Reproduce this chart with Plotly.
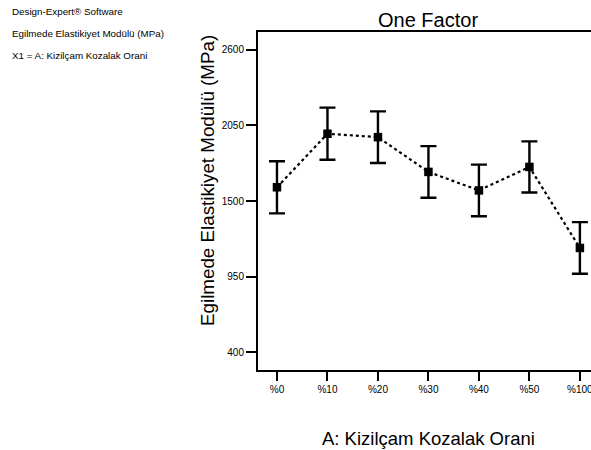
import plotly.graph_objects as go

categories = ["%0", "%10", "%20", "%30", "%40", "%50", "%100"]
means = [1600, 1990, 1965, 1712, 1577, 1748, 1158]
errors = [190, 190, 188, 188, 188, 186, 188]
y_ticks = [400, 950, 1500, 2050, 2600]

x_idx = list(range(len(categories)))

# plot-area geometry in pixels (used only to place free text)
L, T, W, H = 258, 32, 333, 338


def px(x):
    return (x - L) / W


def py(y):
    return (T + H - y) / H


fig = go.Figure()
fig.add_trace(go.Scatter(
    x=x_idx, y=means,
    mode="lines+markers",
    line=dict(color="black", width=2.2, dash="dot"),
    marker=dict(symbol="square", size=8.5, color="black"),
    error_y=dict(type="data", array=errors, visible=True, color="black",
                 thickness=2.4, width=8),
    cliponaxis=False,
    showlegend=False,
))

font_family = "Liberation Sans, Arial, sans-serif"

fig.update_layout(
    width=591, height=450,
    margin=dict(l=L, r=0, t=T, b=450 - T - H, autoexpand=False),
    paper_bgcolor="white", plot_bgcolor="white",
    font=dict(family=font_family, color="black"),
    xaxis=dict(
        range=[-0.376, 6.22],
        automargin=False,
        tickmode="array", tickvals=x_idx, ticktext=categories,
        showline=True, linecolor="black", linewidth=2, mirror=True,
        ticks="outside", ticklen=9, tickwidth=2, tickcolor="black",
        tickfont=dict(size=10, family=font_family),
        ticklabeloverflow="allow",
        showgrid=False, zeroline=False,
    ),
    yaxis=dict(
        range=[269, 2731],
        automargin=False,
        tickmode="array", tickvals=y_ticks, ticktext=[str(v) for v in y_ticks],
        showline=True, linecolor="black", linewidth=2,
        ticks="outside", ticklen=10, tickwidth=2, tickcolor="black",
        tickfont=dict(size=10, family=font_family),
        showgrid=False, zeroline=False,
    ),
)

# chart title
fig.add_annotation(text="One Factor", xref="paper", yref="paper",
                   x=px(428), y=py(20), xanchor="center", yanchor="middle",
                   showarrow=False, font=dict(size=20, family=font_family, color="black"))
# x-axis title
fig.add_annotation(text="A: Kizilçam Kozalak Orani", xref="paper", yref="paper",
                   x=px(428), y=py(438), xanchor="center", yanchor="middle",
                   showarrow=False, font=dict(size=18.5, family=font_family, color="black"))
# y-axis title
fig.add_annotation(text="Egilmede Elastikiyet Modülü (MPa)", xref="paper", yref="paper",
                   x=px(207), y=py(181), xanchor="center", yanchor="middle",
                   textangle=-90, showarrow=False,
                   font=dict(size=18.8, family=font_family, color="black"))

info_lines = ["Design-Expert® Software",
              "Egilmede Elastikiyet Modülü (MPa)",
              "X1 = A: Kizilçam Kozalak Orani"]
info_y = [12, 33, 55]
for txt, yy in zip(info_lines, info_y):
    fig.add_annotation(text=txt, xref="paper", yref="paper",
                       x=px(10), y=py(yy),
                       xanchor="left", yanchor="middle", showarrow=False,
                       font=dict(size=9.8, family=font_family, color="black"))

fig.write_html("out.html", config={"displayModeBar": False},
               post_script="document.body.style.margin='0';document.body.style.overflow='hidden';")
